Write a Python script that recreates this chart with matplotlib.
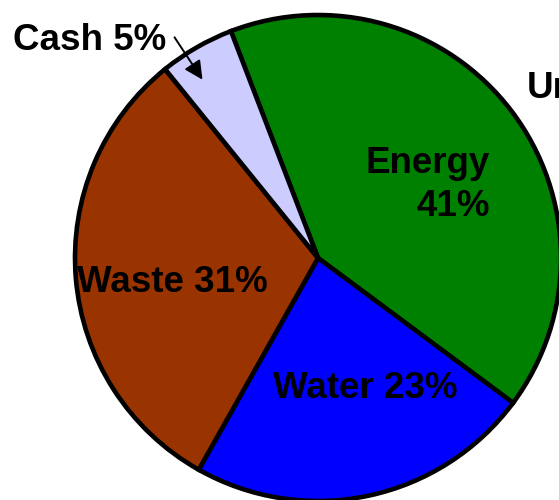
import matplotlib
matplotlib.use("Agg")
import matplotlib.pyplot as plt

categories = ["Energy", "Water", "Waste", "Cash"]
shares = [41, 23, 31, 5]
colors = ["#008000", "#0000FF", "#993300", "#CCCCFF"]

W, H = 559, 500
fig = plt.figure(figsize=(W / 100, H / 100), dpi=100)
ax = fig.add_axes([0, 0, 1, 1])
ax.axis("off")

# pie in pixel coordinates (y measured from bottom)
ax.pie(shares, colors=colors, startangle=111, counterclock=False,
       center=(318, H - 258), radius=243,
       wedgeprops=dict(edgecolor="black", linewidth=3.3))
ax.set_xlim(0, W)
ax.set_ylim(0, H)
ax.set_aspect("equal")

font = dict(family=["Liberation Sans", "DejaVu Sans"], fontsize=26.5,
            fontweight="bold", color="black")

def lab(i):
    return f"{categories[i]} {shares[i]}%"

ax.text(490, H - 185, f"{categories[0]}\n{shares[0]}%", ha="right", va="center",
        multialignment="right", linespacing=1.33, **font)
ax.text(365, H - 388, lab(1), ha="center", va="center", **font)
ax.text(172, H - 283, lab(2), ha="center", va="center", **font)
ax.text(13, H - 41, lab(3), ha="left", va="center", **font)
ax.text(527, H - 88, "Ur", ha="left", va="center", **font)

ax.annotate("", xy=(204, H - 82), xytext=(173, H - 35),
            arrowprops=dict(arrowstyle="-|>", color="black", lw=1.4,
                            mutation_scale=28))

fig.savefig("out.png", dpi=100)
